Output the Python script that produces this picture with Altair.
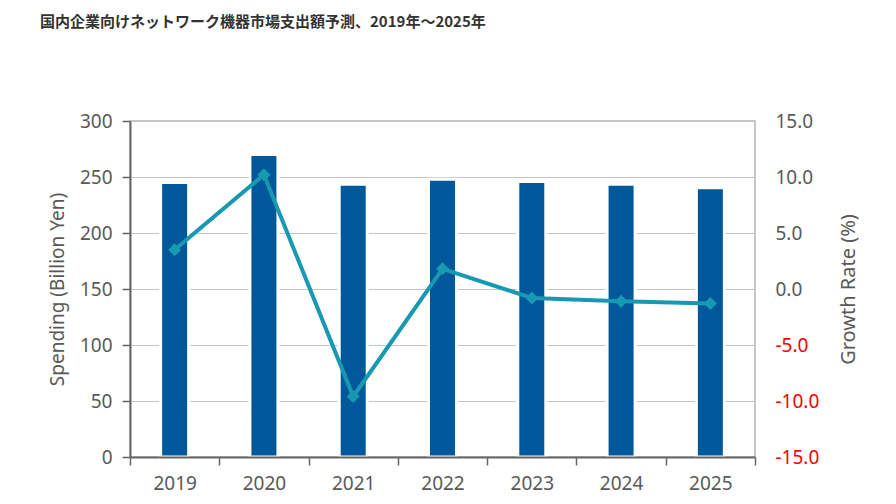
import altair as alt
import pandas as pd

years = ["2019", "2020", "2021", "2022", "2023", "2024", "2025"]
spending = [245, 270, 243.5, 248, 246, 243.5, 240.5]
growth = [3.5, 10.2, -9.6, 1.8, -0.8, -1.1, -1.3]
left_ticks = [0, 50, 100, 150, 200, 250, 300]
right_ticks = [-15, -10, -5, 0, 5, 10, 15]
title_text = "国内企業向けネットワーク機器市場支出額予測、2019年～2025年"

df = pd.DataFrame({"year": years, "spending": spending, "growth": growth})

LABEL_COLOR = "#595959"
FONT = "Noto Sans"

x = alt.X(
    "year:N",
    sort=years,
    scale=alt.Scale(paddingInner=0, paddingOuter=0),
    axis=alt.Axis(
        title=None, labelAngle=0, labelFont=FONT, labelFontSize=19,
        labelColor=LABEL_COLOR, labelPadding=9, domainColor="#666666",
        domainWidth=2, tickColor="#666666", tickWidth=1.5, tickSize=8,
        tickBand="extent", grid=False, zindex=1,
    ),
)

bars = alt.Chart(df).mark_bar(
    width=28, color="#00589a", stroke="white", strokeWidth=3
).encode(
    x=x,
    y=alt.Y(
        "spending:Q",
        scale=alt.Scale(domain=[0, 300], nice=False, zero=True),
        axis=alt.Axis(
            values=left_ticks, title="Spending (Billion Yen)",
            titleFont=FONT, titleFontSize=19, titleFontWeight="normal",
            titleColor=LABEL_COLOR, titleAngle=270, titleX=-73, titleY=168,
            titleAlign="center", titleBaseline="middle",
            labelFont=FONT, labelFontSize=19, labelColor=LABEL_COLOR,
            labelPadding=10, domainColor="#666666", domainWidth=2,
            tickColor="#666666", tickWidth=1.5, tickSize=8,
            grid=True, gridColor="#c4c4c4", gridWidth=1,
        ),
    ),
)

line = alt.Chart(df).mark_line(
    color="#1799b2", strokeWidth=4,
    point=alt.OverlayMarkDef(shape="diamond", size=170, filled=True,
                             color="#1799b2", opacity=1),
).encode(
    x=x,
    y=alt.Y(
        "growth:Q",
        scale=alt.Scale(domain=[-15, 15], nice=False, zero=False),
        axis=alt.Axis(
            orient="right", values=right_ticks, title="Growth Rate (%)",
            titleFont=FONT, titleFontSize=20, titleFontWeight="normal",
            titleColor=LABEL_COLOR, titleAngle=270, titleX=93, titleY=168,
            titleAlign="center", titleBaseline="middle",
            labelFont=FONT, labelFontSize=19,
            labelColor=alt.expr(f"datum.value < 0 ? '#ff0000' : '{LABEL_COLOR}'"),
            labelExpr="replace(format(datum.value, '.1f'), '\u2212', '-')",
            labelPadding=20, domain=False, ticks=False, grid=False,
        ),
    ),
)

chart = (
    alt.layer(bars, line)
    .resolve_scale(y="independent")
    .properties(
        width=625, height=336,
        autosize=alt.AutoSizeParams(type="none"),
        padding={"left": 122, "top": 113, "right": 133, "bottom": 39},
        title=alt.TitleParams(
            text=title_text, anchor="start", frame="group", dx=-90,
            offset=82, font="Noto Sans CJK JP", fontSize=15,
            fontWeight="bold", color="#333333",
        ),
    )
    .configure_view(stroke="#b5b5b5", strokeWidth=1.5)
)

chart.save("out.html", embed_options={"renderer": "svg", "actions": False})
